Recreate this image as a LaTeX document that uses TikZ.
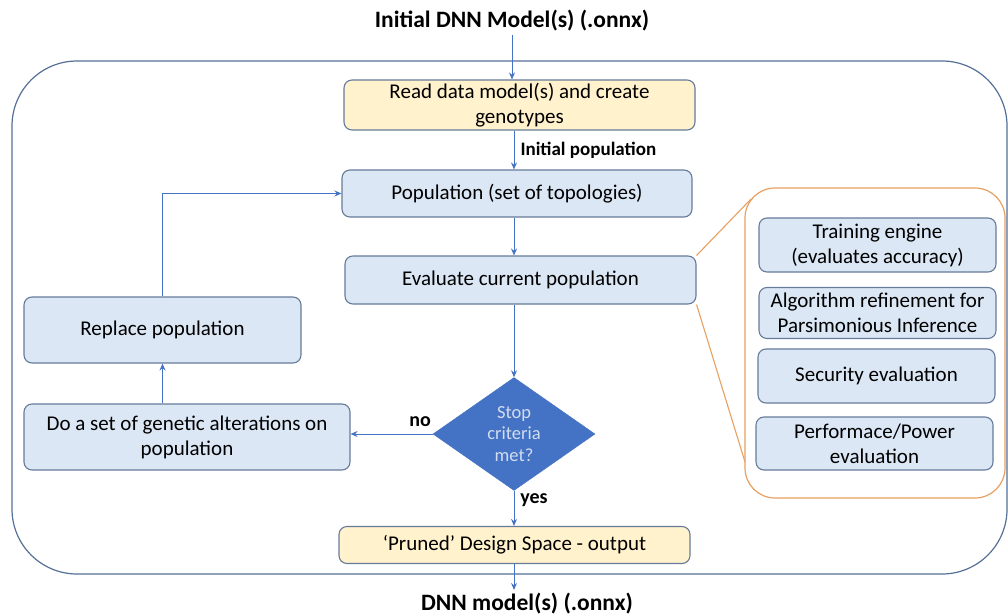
\documentclass[tikz,border=0pt]{standalone}
\usepackage{fontspec}
\setmainfont{Carlito}
\usetikzlibrary{shapes.geometric,arrows.meta}
\definecolor{bluef}{HTML}{DCE7F5}
\definecolor{yelf}{HTML}{FFF2CC}
\definecolor{bordc}{HTML}{667A9A}
\definecolor{arrc}{HTML}{4472C4}
\definecolor{outc}{HTML}{556F97}
\definecolor{orc}{HTML}{E8A060}
\definecolor{diaf}{HTML}{4472C4}
\definecolor{diat}{HTML}{D3DDF0}
\tikzset{
  box/.style={draw=bordc, fill=bluef, rounded corners=8pt, line width=1.1pt, align=center,
    font=\fontsize{21}{25}\selectfont, inner sep=2pt},
  ybox/.style={box, fill=yelf},
  arr/.style={draw=arrc, line width=1pt, -{Stealth[length=7pt,width=6pt]}},
  lbl/.style={font=\fontsize{20}{22}\selectfont\bfseries},
  ttl/.style={font=\fontsize{23.5}{26}\selectfont\bfseries},
}
\begin{document}
\begin{tikzpicture}[x=1pt,y=-1pt]
\useasboundingbox (0,0) rectangle (1008,615);
% outer frame
\draw[outc, line width=1.2pt, rounded corners=65pt] (12,61) rectangle (1007,574);
% orange callout frame
\draw[orc, line width=1.2pt, rounded corners=30pt] (745,188) rectangle (1005,498);

\node[ttl] (title) at (512,21) {Initial DNN Model(s) (.onnx)};
\node[ttl] (outtxt) at (527,604) {DNN model(s) (.onnx)};

\node[ybox, minimum width=351pt, minimum height=50pt] (read) at (519.5,105) {Read data model(s) and create\\genotypes};
\node[box, minimum width=350pt, minimum height=47pt] (pop) at (517,193.5) {Population (set of topologies)};
\node[box, minimum width=351pt, minimum height=48pt] (eval) at (520.5,280) {Evaluate current population};
\node[box, minimum width=277pt, minimum height=66pt] (repl) at (162.5,330) {Replace population};
\node[box, minimum width=326pt, minimum height=66pt] (doset) at (187,437) {Do a set of genetic alterations on\\population};
\node[ybox, minimum width=351pt, minimum height=37pt] (pruned) at (514.5,545) {‘Pruned’ Design Space - output};
\node[diamond, fill=diaf, draw=diaf, inner sep=0pt, aspect=1.43, minimum width=162pt, minimum height=113pt,
  text=diat, align=center, font=\fontsize{18.5}{21.5}\selectfont] (dia) at (514,434) {Stop\\criteria\\met?};

\node[box, minimum width=237pt, minimum height=54pt] (train) at (877.5,245) {Training engine\\(evaluates accuracy)};
\node[box, minimum width=237pt, minimum height=51pt] (algo) at (877.5,313) {Algorithm refinement for\\Parsimonious Inference};
\node[box, minimum width=237pt, minimum height=54pt] (sec) at (876.5,376) {Security evaluation};
\node[box, minimum width=237pt, minimum height=53pt] (perf) at (874.5,443.5) {Performace/Power\\evaluation};

% orange callout lines
\coordinate (oc1) at (751,199);
\coordinate (oc2) at (745,462);
\draw[orc, line width=1.1pt] (eval.north east) -- (oc1);
\draw[orc, line width=1.1pt] (eval.south east) -- (oc2);

% connectors
\draw[arr] (title.south) -- (title.south |- read.north);
\draw[arr] (read.south -| dia.north) -- (pop.north -| dia.north);
\draw[arr] (pop.south -| dia.north) -- (eval.north -| dia.north);
\draw[arr] (eval.south -| dia.north) -- (dia.north);
\draw[arr] (dia.west) -- (dia.west -| doset.east);
\draw[arr] (repl.south |- doset.north) -- (repl.south);
\draw[arr] (repl.north) |- (pop.west);
\draw[arr] (dia.south) -- (pruned.north -| dia.south);
\draw[arr] (pruned.south -| dia.south) -- (outtxt.north -| dia.south);

% labels
\node[font=\fontsize{19}{21}\selectfont\bfseries, anchor=west] (initpop) at (517,150) {Initial population};
\node[lbl] (nolbl) at (420,422) {no};
\node[lbl] (yeslbl) at (534,500) {yes};
\end{tikzpicture}
\end{document}
